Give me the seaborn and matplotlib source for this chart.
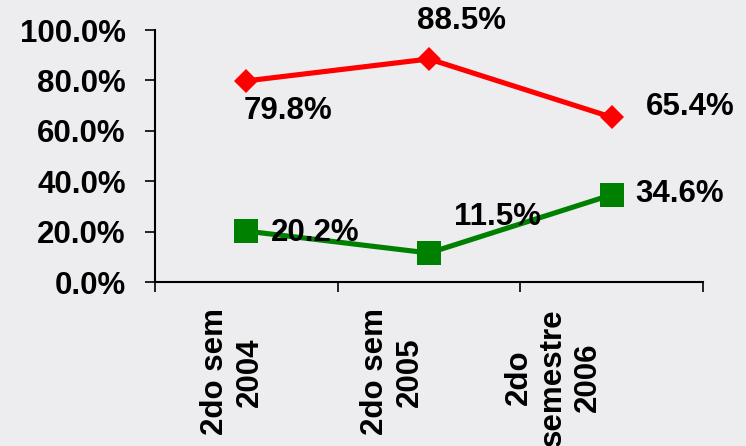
import numpy as np
import pandas as pd
import matplotlib
matplotlib.use("Agg")
import matplotlib.pyplot as plt
import seaborn as sns

categories = ["2do sem\n2004", "2do sem\n2005", "2do\nsemestre\n2006"]
series_names = ["A", "B"]
red_values = [79.8, 88.5, 65.4]
green_values = [20.2, 11.5, 34.6]
y_ticks = [0, 20, 40, 60, 80, 100]

sns.set_style("ticks")
plt.rcParams["font.family"] = ["Liberation Sans", "DejaVu Sans"]
plt.rcParams["font.weight"] = "bold"
plt.rcParams["text.color"] = "black"
plt.rcParams["xtick.color"] = "black"
plt.rcParams["ytick.color"] = "black"
plt.rcParams["xtick.labelcolor"] = "black"
plt.rcParams["ytick.labelcolor"] = "black"

bg = "#ededf0"
fig = plt.figure(figsize=(7.46, 4.46), dpi=100, facecolor=bg)
ax = fig.add_axes([155/746, 1-282/446, (703-155)/746, (282-30)/446])
ax.set_facecolor(bg)

idx = np.arange(len(categories))
df = pd.DataFrame({
    "x": np.concatenate([idx, idx]),
    "y": red_values + green_values,
    "s": [series_names[0]] * 3 + [series_names[1]] * 3,
})
palette = {"A": "#ff0000", "B": "#008000"}
sns.lineplot(data=df, x="x", y="y", hue="s", style="s", palette=palette,
             markers={"A": "D", "B": "s"}, dashes=False, linewidth=3.7,
             markeredgewidth=0, ax=ax, legend=False)
for line, ms in zip(ax.get_lines(), [12.5, 17]):
    line.set_markersize(ms)

fs = 22.5
# data labels
red_off = [(42, -30), (33, 38), (79, 10)]
green_off = [(69, -2), (69, 36), (68, 1)]
for i, v in enumerate(red_values):
    ax.annotate(f"{v:.1f}%", (idx[i], v), xytext=red_off[i], textcoords="offset pixels",
                ha="center", va="center", fontsize=fs, fontweight="bold", color="black")
for i, v in enumerate(green_values):
    ax.annotate(f"{v:.1f}%", (idx[i], v), xytext=green_off[i], textcoords="offset pixels",
                ha="center", va="center", fontsize=fs, fontweight="bold", color="black")

ax.set_xlim(-0.5, len(categories) - 0.5)
ax.set_ylim(0, 100)
ax.set_yticks(y_ticks)
ax.set_yticklabels([f"{t:.1f}%" for t in y_ticks], fontsize=fs, fontweight="bold", color="black")
ax.tick_params(axis="y", length=7, width=1.2, pad=14, color="black")

ax.set_xticks(np.arange(len(categories) + 1) - 0.5)
ax.set_xticklabels([])
ax.tick_params(axis="x", which="major", length=7, width=1.2, direction="out", color="black")
label_shift = [-0.077, -0.2, -0.32]
ax.set_xticks(idx + np.array(label_shift), minor=True)
ax.set_xticklabels(categories, minor=True, rotation=90, fontsize=fs, fontweight="bold",
                   ha="center", va="top", multialignment="center", color="black")
ax.tick_params(axis="x", which="minor", length=0, pad=19)

ax.set_xlabel("")
ax.set_ylabel("")
for side in ["top", "right"]:
    ax.spines[side].set_visible(False)
for side in ["left", "bottom"]:
    ax.spines[side].set_linewidth(1.5)
    ax.spines[side].set_color("black")

fig.savefig("out.png", dpi=100, facecolor=bg)
